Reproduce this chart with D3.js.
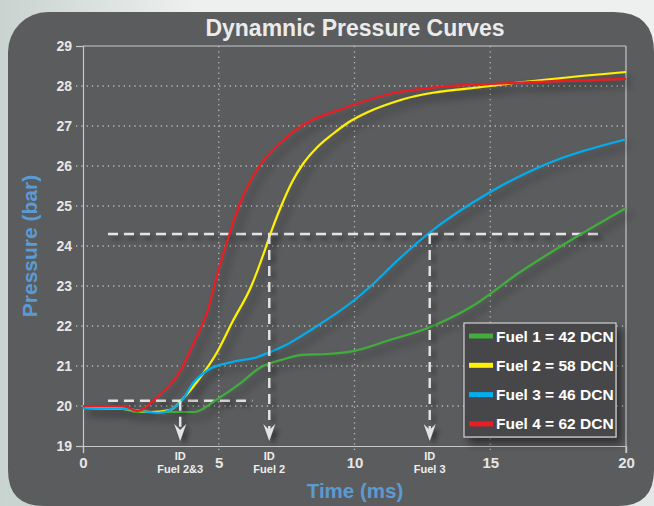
<!DOCTYPE html>
<html><head><meta charset="utf-8">
<script src="https://cdn.jsdelivr.net/npm/d3@7/dist/d3.min.js"></script>
<style>
html,body{margin:0;padding:0;background:#e9eded;}
svg{display:block;}
text{font-family:"Liberation Sans",Arial,sans-serif;font-weight:bold;}
</style></head>
<body>
<svg id="chart" width="654" height="506"></svg>
<script>
// ---- data ----
const fuel1 = [[0,19.95],[1.5,19.93],[2.0,19.85],[4.1,19.85],[4.9,20.15],[5.8,20.57],[6.5,20.95],[7.4,21.17],[8.1,21.28],[9.0,21.3],[10,21.38],[11.3,21.65],[12.7,21.95],[14.3,22.48],[16.1,23.35],[18.1,24.2],[20,24.95]];
const fuel2 = [[0,19.95],[1.5,19.93],[2.5,19.85],[3.2,19.9],[3.7,20.2],[4.3,20.7],[4.9,21.3],[5.5,22.1],[6.2,23.0],[6.7,23.9],[6.9,24.3],[7.3,25.0],[7.7,25.6],[8.1,26.05],[8.6,26.45],[9.2,26.8],[9.8,27.1],[10.5,27.35],[11.7,27.65],[15,28.0],[20,28.35]];
const fuel3 = [[0,19.95],[1.5,19.93],[2.8,19.83],[3.6,20.1],[4.05,20.57],[4.6,20.9],[5.5,21.1],[6.4,21.22],[6.9,21.35],[7.4,21.5],[8.5,21.95],[10,22.65],[10.6,23.0],[11.6,23.65],[12.7,24.3],[15,25.35],[16.9,26.0],[20,26.67]];
const fuel4 = [[0,20.0],[1.5,20.0],[2.0,19.87],[2.7,20.2],[3.6,20.9],[4.1,21.6],[4.6,22.4],[4.95,23.3],[5.35,24.2],[5.8,25.1],[6.5,26.0],[7.3,26.6],[8.3,27.1],[9.5,27.42],[11.3,27.8],[13.2,27.98],[15,28.05],[20,28.18]];
const seriesNames = ["Fuel 1 = 42 DCN","Fuel 2 = 58 DCN","Fuel 3 = 46 DCN","Fuel 4 = 62 DCN"];
const seriesColors = ["#3fae3a","#fff200","#00aeef","#ed1c24"];
const xTicks = [0,5,10,15,20];
const yTicks = [19,20,21,22,23,24,25,26,27,28,29];
const refLevels = [20.13, 24.3];
const refStart = [0.92, 0.92];
const refEnd = [6.24, 19.1];
const idTimes = [3.58, 6.86, 12.77];
const idTop = [20.13, 24.3, 24.3];
const idLabels = ["Fuel 2&3","Fuel 2","Fuel 3"];

// ---- layout ----
const svg = d3.select("#chart");
const W = 654, H = 506;
const m = {left:83, right:28, top:46, bottom:60};
const x = d3.scaleLinear().domain([0,20]).range([m.left, W-m.right]);
const y = d3.scaleLinear().domain([19,29]).range([H-m.bottom, m.top]);

const defs = svg.append("defs");
const bg = defs.append("linearGradient").attr("id","bg").attr("x1","0").attr("y1","0").attr("x2","1").attr("y2","0");
bg.append("stop").attr("offset","0").attr("stop-color","#c9d3d0");
bg.append("stop").attr("offset","0.3").attr("stop-color","#eef0ef");
bg.append("stop").attr("offset","1").attr("stop-color","#eef0ef");
const sh = defs.append("filter").attr("id","shadow").attr("x","-20%").attr("y","-20%").attr("width","140%").attr("height","140%");
sh.append("feDropShadow").attr("dx",4).attr("dy",4).attr("stdDeviation",2.5).attr("flood-color","#000").attr("flood-opacity",0.45);
const sh2 = defs.append("filter").attr("id","shadow2").attr("x","-20%").attr("y","-20%").attr("width","140%").attr("height","140%");
sh2.append("feDropShadow").attr("dx",5).attr("dy",6).attr("stdDeviation",4.5).attr("flood-color","#000").attr("flood-opacity",0.5);

svg.append("rect").attr("width",W).attr("height",H).attr("fill","url(#bg)");
svg.append("rect").attr("x",8).attr("y",12).attr("width",W-8+30).attr("height",H-12+30)
  .attr("rx",40).attr("fill","#5b5c5e");
// bottom / top-right rounded corners
svg.append("path").attr("d",`M8,${H-36} Q8,${H} 44,${H} L8,${H} Z`).attr("fill","#c9d3d0");
svg.append("path").attr("d",`M${W},${H-36} Q${W},${H} ${W-36},${H} L${W},${H} Z`).attr("fill","#e4e8e7");
svg.append("path").attr("d",`M${W-40},12 Q${W},12 ${W},52 L${W},12 Z`).attr("fill","#eef0ef");

// grid
const gridColor = "#b9b9b9";
svg.append("g").selectAll("line").data(yTicks.filter(d=>d>19&&d<29)).join("line")
  .attr("x1",m.left-7).attr("x2",x(20)).attr("y1",d=>y(d)).attr("y2",d=>y(d))
  .attr("stroke",gridColor).attr("stroke-width",1.3).attr("stroke-dasharray","1.3,4");
svg.append("g").selectAll("line").data(xTicks.filter(d=>d>0&&d<20)).join("line")
  .attr("x1",d=>x(d)).attr("x2",d=>x(d)).attr("y1",y(29)).attr("y2",y(19)+7)
  .attr("stroke",gridColor).attr("stroke-width",1.3).attr("stroke-dasharray","1.3,4");
// frame
svg.append("line").attr("x1",x(0)).attr("x2",x(20)).attr("y1",y(29)).attr("y2",y(29)).attr("stroke","#c8c8c8").attr("stroke-width",1.2);
svg.append("line").attr("x1",x(20)).attr("x2",x(20)).attr("y1",y(29)).attr("y2",y(19)+7).attr("stroke","#c8c8c8").attr("stroke-width",1.2);

// axes
const ax = svg.append("g").attr("transform",`translate(0,${y(19)})`)
  .call(d3.axisBottom(x).tickValues(xTicks).tickSize(7).tickPadding(4));
ax.select(".domain").attr("stroke","#c8c8c8").attr("stroke-width",1.2);
ax.selectAll(".tick line").attr("stroke","#c8c8c8").attr("stroke-width",1.2)
  .attr("opacity",d=>(d===0||d===20)?1:0);
ax.selectAll("text").attr("fill","#e6e6e6").attr("font-size",15).attr("font-weight","bold")
  .attr("font-family","Liberation Sans, Arial, sans-serif");
const ay = svg.append("g").attr("transform",`translate(${x(0)},0)`)
  .call(d3.axisLeft(y).tickValues(yTicks).tickSize(7).tickPadding(4));
ay.select(".domain").attr("stroke","#c8c8c8").attr("stroke-width",1.2);
ay.selectAll(".tick line").attr("stroke","#c8c8c8").attr("stroke-width",1.2)
  .attr("opacity",d=>(d===19||d===29)?1:0);
ay.selectAll("text").attr("fill","#e6e6e6").attr("font-size",14).attr("font-weight","bold")
  .attr("font-family","Liberation Sans, Arial, sans-serif");

// reference dashed lines
const dashCol = "#e4e4e4";
const refG = svg.append("g").attr("filter","url(#shadow)");
refG.selectAll("line.h").data(refLevels).join("line").attr("class","h")
  .attr("x1",(d,i)=>x(refStart[i])).attr("x2",(d,i)=>x(refEnd[i]))
  .attr("y1",d=>y(d)).attr("y2",d=>y(d))
  .attr("stroke",dashCol).attr("stroke-width",2.4).attr("stroke-dasharray","10,6");

// curves
const line = d3.line().x(d=>x(d[0])).y(d=>y(d[1])).curve(d3.curveMonotoneX);
const allSeries = [fuel1, fuel2, fuel3, fuel4];
svg.append("g").attr("filter","url(#shadow2)").selectAll("path").data(allSeries).join("path")
  .attr("d",line).attr("fill","none")
  .attr("stroke",(d,i)=>seriesColors[i]).attr("stroke-width",2.2);

// ID arrows
const tipY = y(19)-5;
const arG = svg.append("g").attr("filter","url(#shadow)");
arG.selectAll("line.v").data(idTimes).join("line").attr("class","v")
  .attr("x1",d=>x(d)).attr("x2",d=>x(d)).attr("y1",(d,i)=>y(idTop[i])).attr("y2",tipY-8)
  .attr("stroke",dashCol).attr("stroke-width",2.4).attr("stroke-dasharray","10,6");
arG.selectAll("path").data(idTimes).join("path")
  .attr("d",d=>{const cx=x(d);return `M${cx},${tipY} L${cx-6},${tipY-17} L${cx},${tipY-11} L${cx+6},${tipY-17} Z`;})
  .attr("fill",dashCol);
const lbl = svg.append("g").selectAll("text").data(idTimes).join("text")
  .attr("x",d=>x(d)).attr("y",y(19)+14).attr("text-anchor","middle")
  .attr("fill","#eeeeee").attr("font-size",11).attr("font-weight","normal")
  .style("font-family","'Liberation Sans Narrow','Arial Narrow',sans-serif");
lbl.append("tspan").attr("x",d=>x(d)).attr("dy",0).text("ID");
lbl.append("tspan").attr("x",d=>x(d)).attr("dy",13).text((d,i)=>idLabels[i]);

// legend
const lg = svg.append("g").attr("transform","translate(464,323)");
lg.append("rect").attr("width",152).attr("height",114).attr("fill","#464648")
  .attr("stroke","#d0d0d0").attr("stroke-width",1.2).attr("filter","url(#shadow2)");
const li = lg.selectAll("g").data(seriesNames).join("g")
  .attr("transform",(d,i)=>`translate(0,${13+i*29.3})`);
li.append("line").attr("x1",5).attr("x2",29).attr("y1",0).attr("y2",0)
  .attr("stroke",(d,i)=>seriesColors[i]).attr("stroke-width",5);
li.append("text").attr("x",32).attr("y",5.5).attr("fill","#ffffff").attr("font-size",15.5)
  .text(d=>d);

// titles
svg.append("text").attr("x",355).attr("y",36).attr("text-anchor","middle")
  .attr("fill","#ebebeb").attr("font-size",23).text("Dynamnic Pressure Curves");
svg.append("text").attr("x",355).attr("y",498).attr("text-anchor","middle")
  .attr("fill","#5b9bd5").attr("font-size",20.5).text("Time (ms)");
svg.append("text").attr("transform","translate(37,246) rotate(-90)").attr("text-anchor","middle")
  .attr("fill","#5b9bd5").attr("font-size",21).text("Pressure (bar)");
</script>
</body></html>
